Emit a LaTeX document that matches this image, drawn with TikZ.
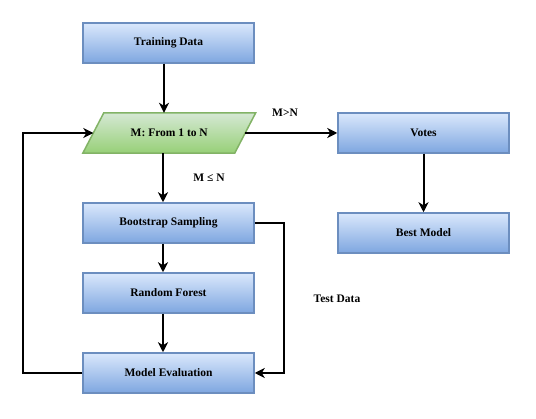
\documentclass[tikz,border=0pt]{standalone}
\usepackage{fontspec}
\setmainfont{Liberation Serif}
\usetikzlibrary{arrows.meta,calc}
\definecolor{bluetop}{HTML}{DAE8FC}
\definecolor{bluebot}{HTML}{7EA6E0}
\definecolor{blueline}{HTML}{6C8EBF}
\definecolor{greentop}{HTML}{D5E8D4}
\definecolor{greenbot}{HTML}{97D077}
\definecolor{greenline}{HTML}{82B366}
\begin{document}
\begin{tikzpicture}[x=1pt,y=-1pt,
  font=\fontsize{11.5}{13}\selectfont\bfseries,
  bbox/.style={draw=blueline,line width=1.5pt,top color=bluetop,bottom color=bluebot,
    minimum width=171pt,minimum height=40pt,inner sep=0pt},
  conn/.style={line width=2pt,-{Stealth[length=10pt,width=10pt,inset=3pt]}},
  plain/.style={line width=2pt}]
\useasboundingbox (0,0) rectangle (536,419);
\node[bbox] (td) at (168.5,43) {Training Data};
\node[minimum width=151.5pt,minimum height=40pt,inner sep=0pt] (p) at (169.25,133) {};
\path[draw=greenline,line width=1.5pt,top color=greentop,bottom color=greenbot]
  ([xshift=10.5pt]p.north west) -- ([xshift=10.5pt]p.north east)
  -- ([xshift=-10.5pt]p.south east) -- ([xshift=-10.5pt]p.south west) -- cycle;
\node at (p) {M: From 1 to N};
\node[bbox] (bs) at (168.5,223) {Bootstrap Sampling};
\node[bbox] (rf) at (168.5,293) {Random Forest};
\node[bbox] (me) at (168.5,373) {Model Evaluation};
\node[bbox] (vo) at (423.5,133) {Votes};
\node[bbox] (bm) at (423.5,233) {Best Model};
\node (lgt) at (285,113) {M>N};
\node (lle) at (209,178) {M ≤ N};
\node (ltd) at (337,299) {Test Data};
\coordinate (ax) at (164,0);
\coordinate (bx) at (163,0);
\coordinate (lx) at (23,0);
\coordinate (rx) at (284,0);
\draw[conn] (td.south -| ax) -- (p.north -| ax);
\draw[conn] (p.south -| bx) -- (bs.north -| bx);
\draw[conn] (bs.south -| bx) -- (rf.north -| bx);
\draw[conn] (rf.south -| bx) -- (me.north -| bx);
\draw[conn] (p.east) -- (vo.west);
\draw[conn] (vo.south) -- (bm.north);
\draw[conn] (me.west) -- (me.west -| lx) -- (p.west -| lx) -- (p.west);
\draw[conn] (bs.east) -- (bs.east -| rx) -- (me.east -| rx) -- (me.east);
\end{tikzpicture}
\end{document}
